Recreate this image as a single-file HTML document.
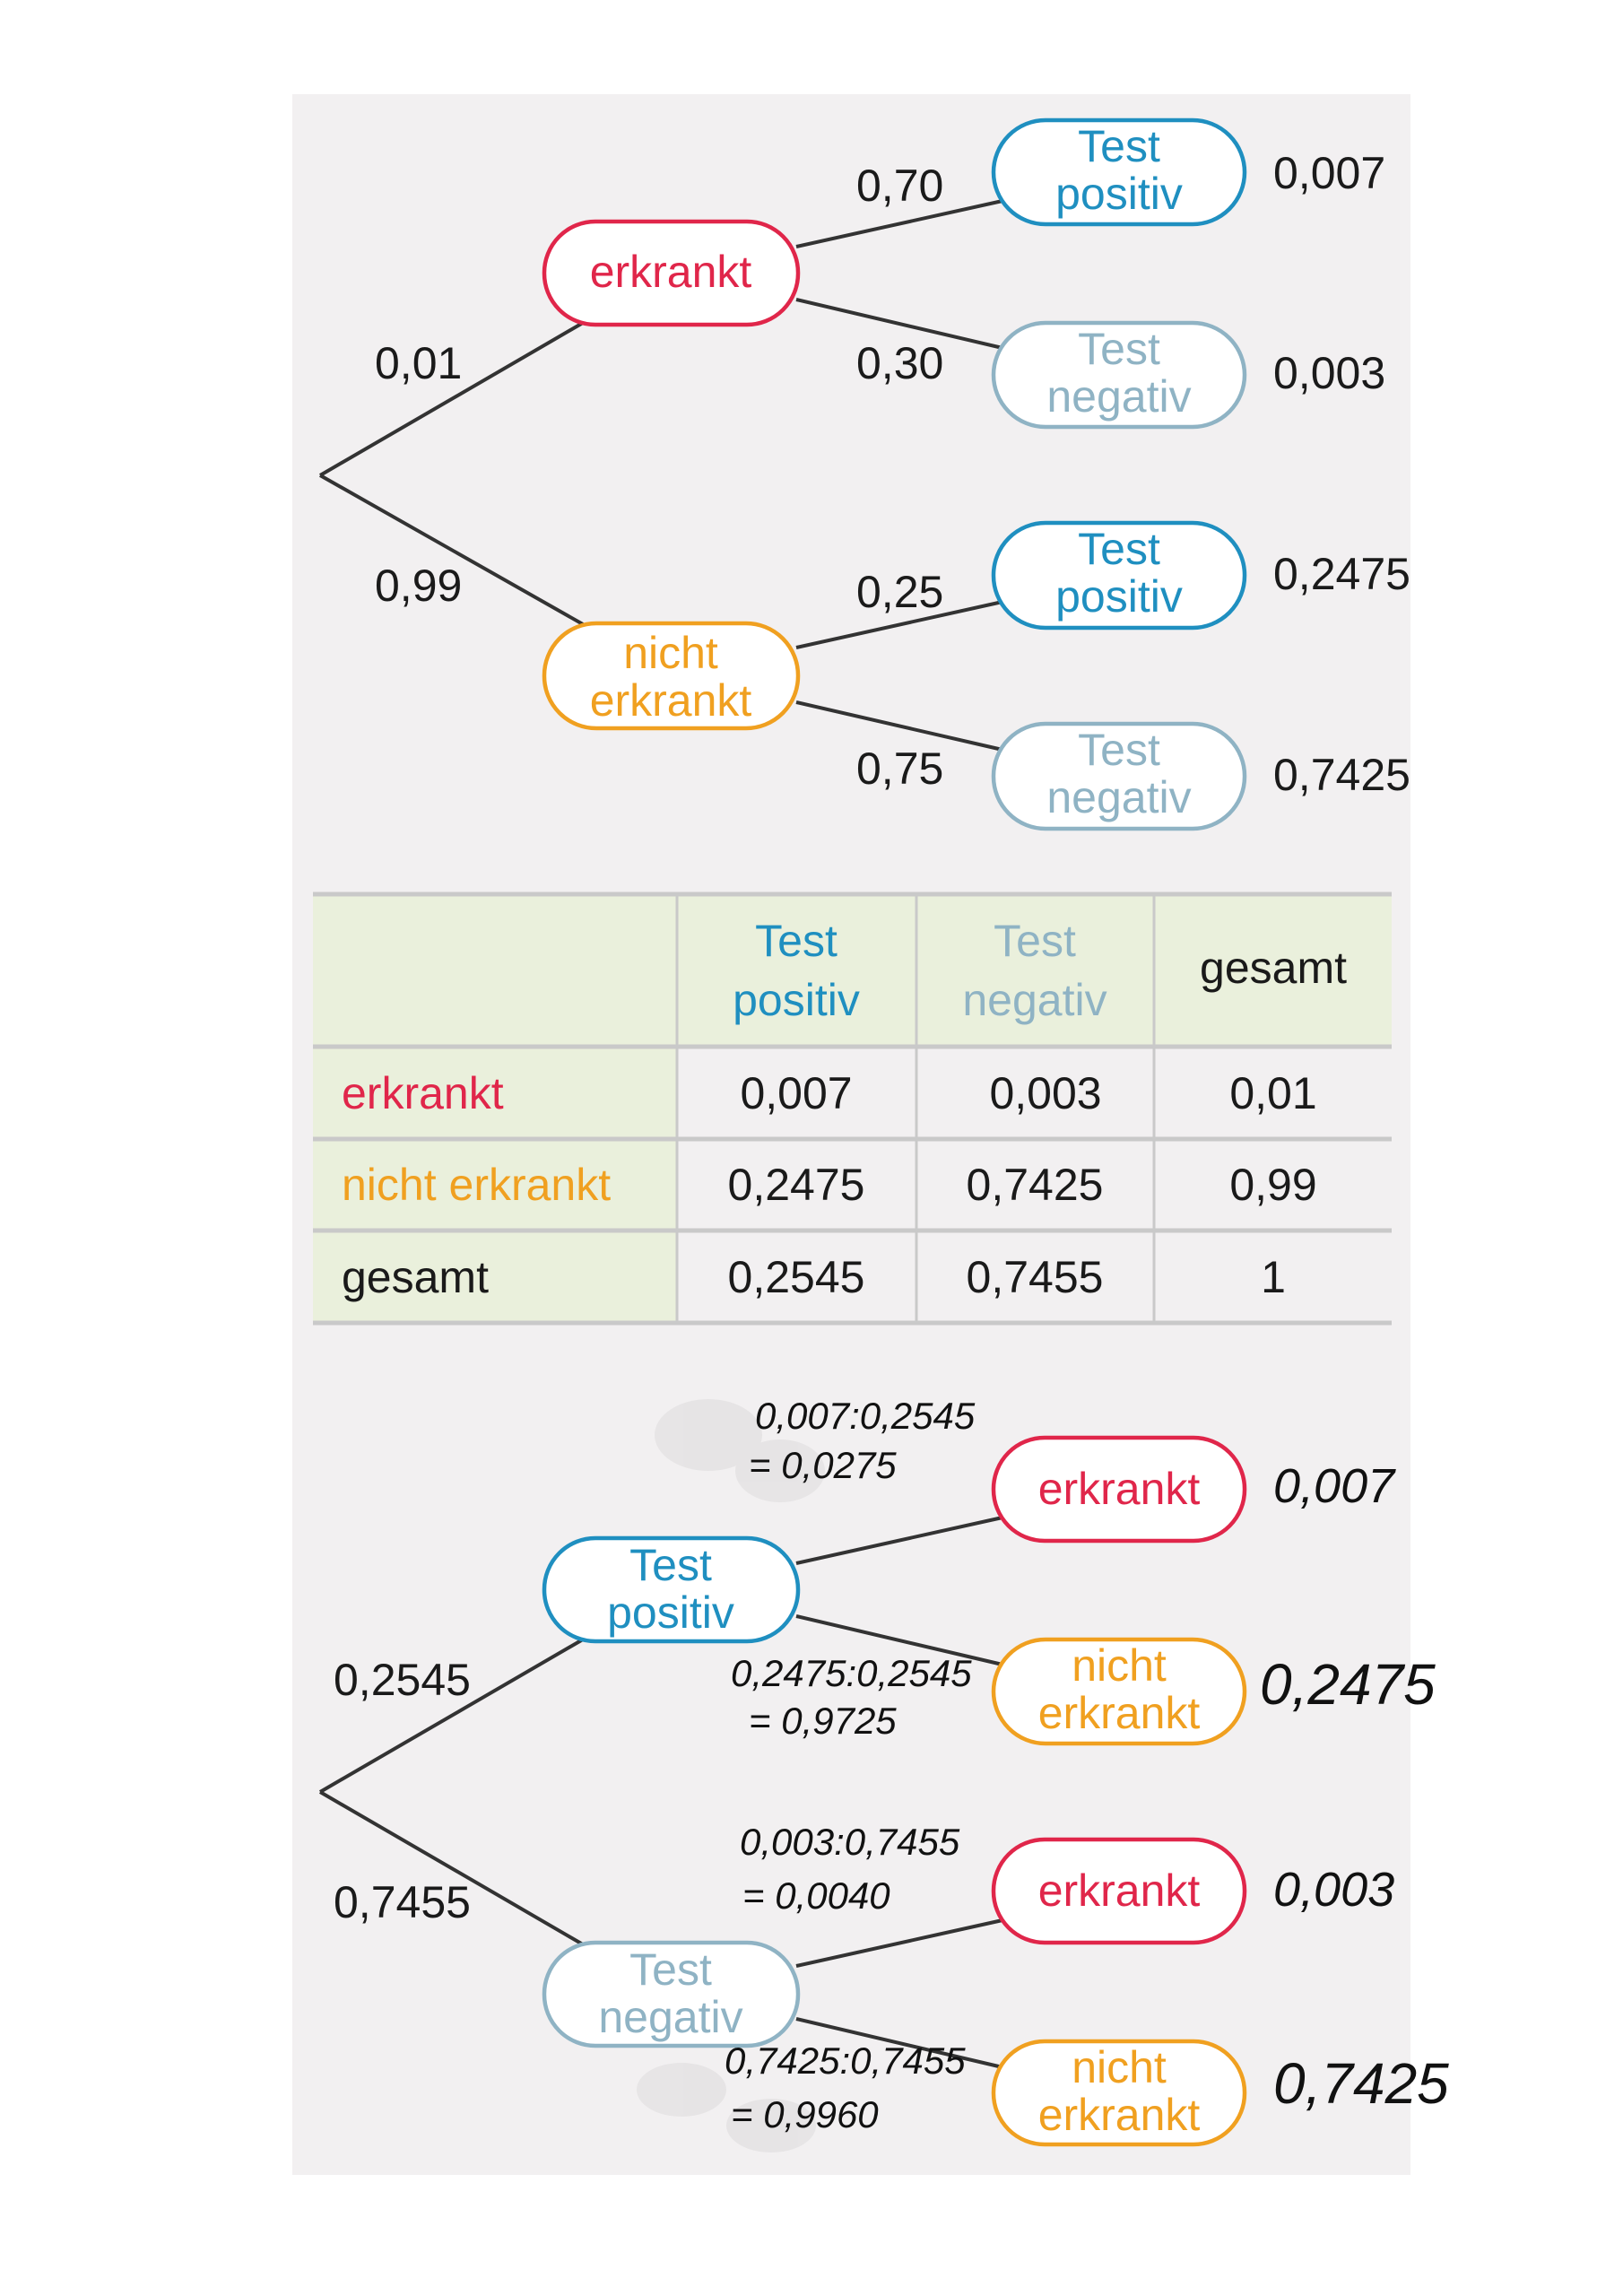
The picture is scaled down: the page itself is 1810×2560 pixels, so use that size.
<!DOCTYPE html>
<html><head><meta charset="utf-8"><style>
html,body{margin:0;padding:0;background:#fff;}
svg{display:block}
.t{font-family:"Liberation Sans",sans-serif;}
</style></head><body>
<svg width="1810" height="2560" viewBox="0 0 1810 2560" xmlns="http://www.w3.org/2000/svg" class="t">
<rect x="0" y="0" width="1810" height="2560" fill="#fff"/>
<rect x="326" y="105" width="1247" height="2320" fill="#f2f0f1"/>

<!-- TOP TREE -->
<g stroke="#333" stroke-width="4" fill="none">
<line x1="357" y1="530" x2="650" y2="360"/>
<line x1="357" y1="530" x2="650" y2="696"/>
<line x1="888" y1="275" x2="1118" y2="224"/>
<line x1="888" y1="334" x2="1118" y2="388"/>
<line x1="888" y1="722" x2="1118" y2="671"/>
<line x1="888" y1="783" x2="1118" y2="836"/>
</g>
<g stroke-width="4.5" fill="#fff">
<rect x="607" y="247" width="283" height="115" rx="57" stroke="#e0264a"/>
<rect x="607" y="695" width="283" height="117" rx="58" stroke="#f0a020"/>
<rect x="1108" y="134" width="280" height="116" rx="58" stroke="#1f8fc0"/>
<rect x="1108" y="360" width="280" height="116" rx="58" stroke="#8fb3c4"/>
<rect x="1108" y="583" width="280" height="117" rx="58" stroke="#1f8fc0"/>
<rect x="1108" y="807" width="280" height="117" rx="58" stroke="#8fb3c4"/>
</g>
<g font-size="50" text-anchor="middle">
<text x="748" y="320" fill="#e0264a">erkrankt</text>
<text x="748" y="745" fill="#f0a020">nicht</text>
<text x="748" y="798" fill="#f0a020">erkrankt</text>
<text x="1248" y="180" fill="#1f8fc0">Test</text>
<text x="1248" y="233" fill="#1f8fc0">positiv</text>
<text x="1248" y="406" fill="#8fb3c4">Test</text>
<text x="1248" y="459" fill="#8fb3c4">negativ</text>
<text x="1248" y="629" fill="#1f8fc0">Test</text>
<text x="1248" y="682" fill="#1f8fc0">positiv</text>
<text x="1248" y="853" fill="#8fb3c4">Test</text>
<text x="1248" y="906" fill="#8fb3c4">negativ</text>
</g>
<g font-size="50" fill="#1a1a1a">
<text x="418" y="422">0,01</text>
<text x="418" y="670">0,99</text>
<text x="955" y="224">0,70</text>
<text x="955" y="422">0,30</text>
<text x="955" y="677">0,25</text>
<text x="955" y="874">0,75</text>
<text x="1420" y="210">0,007</text>
<text x="1420" y="433">0,003</text>
<text x="1420" y="657">0,2475</text>
<text x="1420" y="881">0,7425</text>
</g>

<!-- TABLE -->
<rect x="349" y="997" width="1203" height="170" fill="#eaf0dc"/>
<rect x="349" y="1167" width="406" height="309" fill="#eaf0dc"/>
<g stroke="#c9c9c9" stroke-width="5">
<line x1="349" y1="997" x2="1552" y2="997"/>
<line x1="349" y1="1167" x2="1552" y2="1167"/>
<line x1="349" y1="1270" x2="1552" y2="1270"/>
<line x1="349" y1="1372" x2="1552" y2="1372"/>
<line x1="349" y1="1475" x2="1552" y2="1475"/>
</g>
<g stroke="#c9c9c9" stroke-width="3">
<line x1="755" y1="997" x2="755" y2="1475"/>
<line x1="1022" y1="997" x2="1022" y2="1475"/>
<line x1="1287" y1="997" x2="1287" y2="1475"/>
</g>
<g font-size="50" text-anchor="middle">
<text x="888" y="1066" fill="#1f8fc0">Test</text>
<text x="888" y="1132" fill="#1f8fc0">positiv</text>
<text x="1154" y="1066" fill="#8fb3c4">Test</text>
<text x="1154" y="1132" fill="#8fb3c4">negativ</text>
<text x="1420" y="1096" fill="#1a1a1a">gesamt</text>
<g fill="#1a1a1a">
<text x="888" y="1236">0,007</text>
<text x="1166" y="1236">0,003</text>
<text x="1420" y="1236">0,01</text>
<text x="888" y="1338">0,2475</text>
<text x="1154" y="1338">0,7425</text>
<text x="1420" y="1338">0,99</text>
<text x="888" y="1441">0,2545</text>
<text x="1154" y="1441">0,7455</text>
<text x="1420" y="1441">1</text>
</g>
</g>
<g font-size="50">
<text x="381" y="1236" fill="#e0264a">erkrankt</text>
<text x="381" y="1338" fill="#f0a020">nicht erkrankt</text>
<text x="381" y="1441" fill="#1a1a1a">gesamt</text>
</g>

<!-- BOTTOM TREE -->
<g fill="#e4e2e3" opacity="0.8">
<ellipse cx="790" cy="1600" rx="60" ry="40"/>
<ellipse cx="870" cy="1640" rx="50" ry="35"/>
<ellipse cx="760" cy="2330" rx="50" ry="30"/>
<ellipse cx="860" cy="2370" rx="50" ry="30"/>
</g>
<g stroke="#333" stroke-width="4" fill="none">
<line x1="357" y1="1998" x2="650" y2="1828"/>
<line x1="357" y1="1998" x2="650" y2="2168"/>
<line x1="888" y1="1743" x2="1118" y2="1692"/>
<line x1="888" y1="1802" x2="1118" y2="1856"/>
<line x1="888" y1="2192" x2="1118" y2="2141"/>
<line x1="888" y1="2251" x2="1118" y2="2305"/>
</g>
<g stroke-width="4.5" fill="#fff">
<rect x="607" y="1715" width="283" height="115" rx="57" stroke="#1f8fc0"/>
<rect x="607" y="2166" width="283" height="115" rx="57" stroke="#8fb3c4"/>
<rect x="1108" y="1603" width="280" height="115" rx="57" stroke="#e0264a"/>
<rect x="1108" y="1828" width="280" height="116" rx="58" stroke="#f0a020"/>
<rect x="1108" y="2051" width="280" height="115" rx="57" stroke="#e0264a"/>
<rect x="1108" y="2276" width="280" height="115" rx="57" stroke="#f0a020"/>
</g>
<g font-size="50" text-anchor="middle">
<text x="748" y="1762" fill="#1f8fc0">Test</text>
<text x="748" y="1815" fill="#1f8fc0">positiv</text>
<text x="748" y="2213" fill="#8fb3c4">Test</text>
<text x="748" y="2266" fill="#8fb3c4">negativ</text>
<text x="1248" y="1677" fill="#e0264a">erkrankt</text>
<text x="1248" y="1874" fill="#f0a020">nicht</text>
<text x="1248" y="1927" fill="#f0a020">erkrankt</text>
<text x="1248" y="2125" fill="#e0264a">erkrankt</text>
<text x="1248" y="2322" fill="#f0a020">nicht</text>
<text x="1248" y="2375" fill="#f0a020">erkrankt</text>
</g>
<g font-size="50" fill="#1a1a1a">
<text x="372" y="1890">0,2545</text>
<text x="372" y="2138">0,7455</text>
</g>
<g font-family="'Liberation Sans',sans-serif" font-style="italic" fill="#111">
<text x="1420" y="1675" font-size="54">0,007</text>
<text x="1405" y="1900" font-size="64">0,2475</text>
<text x="1420" y="2125" font-size="54">0,003</text>
<text x="1420" y="2345" font-size="64">0,7425</text>
<g font-size="42">
<text x="842" y="1593">0,007:0,2545</text>
<text x="835" y="1648">= 0,0275</text>
<text x="815" y="1880">0,2475:0,2545</text>
<text x="835" y="1933">= 0,9725</text>
<text x="825" y="2068">0,003:0,7455</text>
<text x="828" y="2128">= 0,0040</text>
<text x="808" y="2312">0,7425:0,7455</text>
<text x="815" y="2372">= 0,9960</text>
</g>
</g>
</svg>
</body></html>
